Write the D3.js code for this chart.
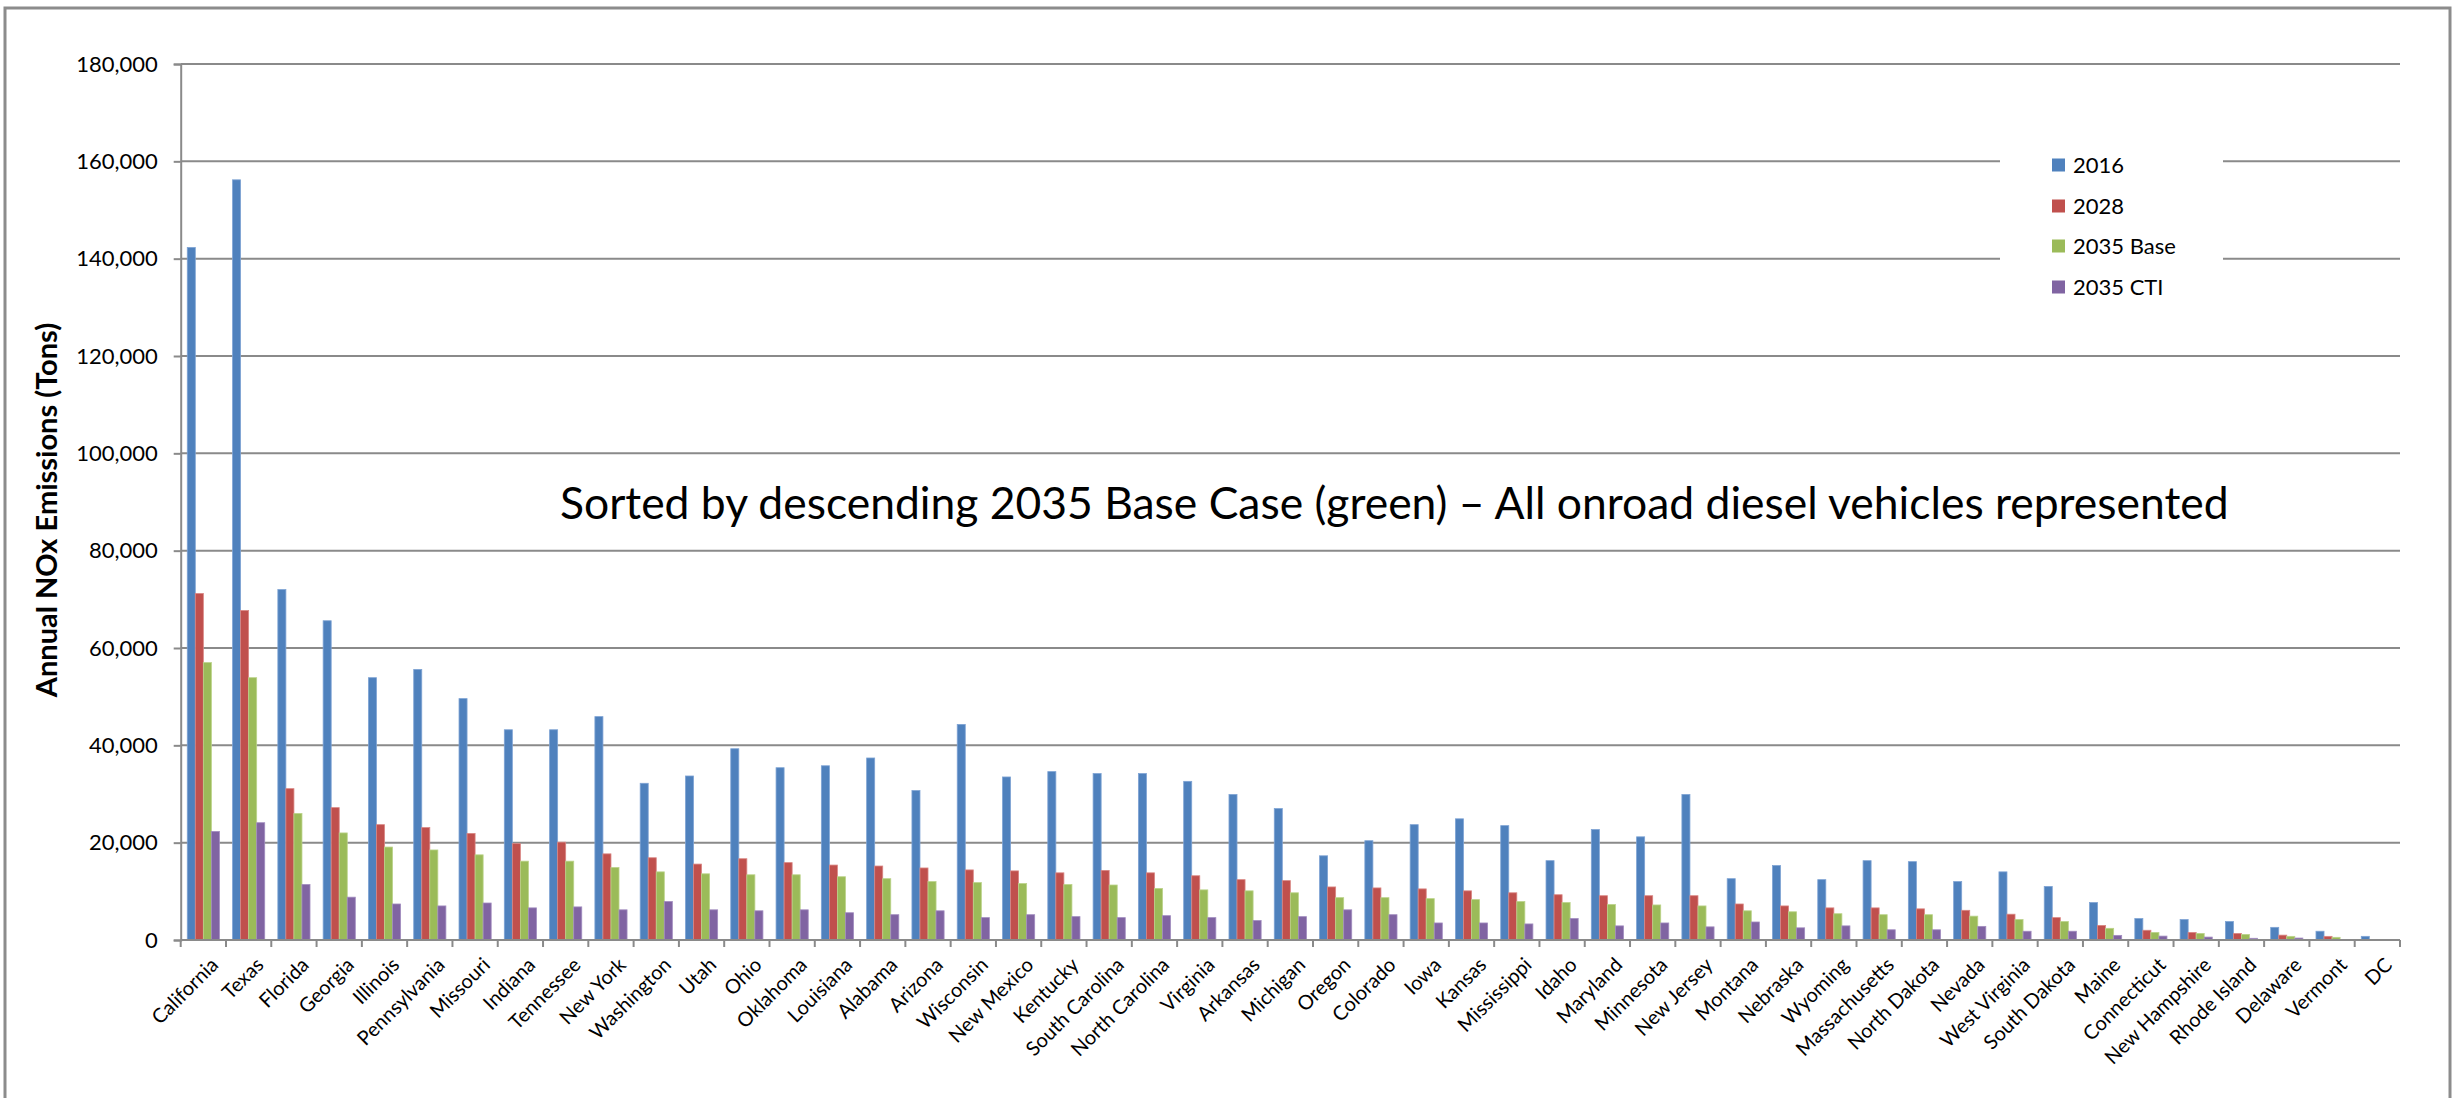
<!DOCTYPE html>
<html>
<head>
<meta charset="utf-8">
<script src="https://cdn.jsdelivr.net/npm/d3@7/dist/d3.min.js"></script>
<style>
  html, body { margin: 0; padding: 0; background: #fff; }
  svg { display: block; }
  text { font-family: Lato, "Liberation Sans", Arial, sans-serif; fill: #000; }
</style>
</head>
<body>
<svg id="chart" width="2460" height="1098"></svg>
<script>
// ---------------- DATA ----------------
const categories = ["California","Texas","Florida","Georgia","Illinois","Pennsylvania","Missouri","Indiana","Tennessee","New York","Washington","Utah","Ohio","Oklahoma","Louisiana","Alabama","Arizona","Wisconsin","New Mexico","Kentucky","South Carolina","North Carolina","Virginia","Arkansas","Michigan","Oregon","Colorado","Iowa","Kansas","Mississippi","Idaho","Maryland","Minnesota","New Jersey","Montana","Nebraska","Wyoming","Massachusetts","North Dakota","Nevada","West Virginia","South Dakota","Maine","Connecticut","New Hampshire","Rhode Island","Delaware","Vermont","DC"];

const seriesNames = ["2016","2028","2035 Base","2035 CTI"];

const values2016 = [142300,156200,72000,65600,53900,55600,49600,43200,43200,45900,32200,33700,39300,35400,35800,37400,30700,44300,33500,34600,34200,34200,32600,29900,27000,17300,20400,23700,24900,23500,16300,22700,21200,29900,12600,15300,12400,16300,16100,12000,14000,11000,7700,4400,4200,3800,2600,1800,750];
const values2028 = [71200,67700,31100,27200,23700,23100,21900,19800,20100,17700,16900,15600,16700,15900,15400,15200,14800,14400,14200,13800,14300,13800,13200,12400,12200,10900,10700,10500,10100,9700,9300,9100,9100,9100,7400,7000,6600,6600,6400,6100,5300,4600,3000,2000,1550,1350,1000,750,40];
const values2035Base = [57000,53900,26000,22000,19100,18500,17500,16200,16200,14900,14000,13600,13400,13400,13000,12600,12000,11800,11600,11400,11300,10600,10300,10100,9700,8700,8700,8500,8300,7900,7700,7300,7200,7000,6000,5800,5400,5200,5200,4900,4200,3800,2400,1550,1350,1150,750,550,20];
const values2035CTI = [22300,24100,11400,8800,7400,7000,7600,6600,6800,6200,7900,6200,6000,6200,5600,5200,6000,4600,5200,4800,4600,5000,4600,4000,4800,6200,5200,3500,3500,3300,4400,2900,3500,2700,3700,2500,2900,2100,2100,2800,1800,1800,950,800,600,350,400,50,10];

const yTicks = [0,20000,40000,60000,80000,100000,120000,140000,160000,180000];
const yTitle = "Annual NOx Emissions (Tons)";
const annotation = "Sorted by descending 2035 Base Case (green) \u2013 All onroad diesel vehicles represented";
const colors = ["#4F81BD","#C0504D","#9BBB59","#8064A2"];
const strokeColors = ["#7EA3D4","#D98683","#BBD38A","#A18CBF"];

// ---------------- BUILD ----------------
const seriesValues = [values2016, values2028, values2035Base, values2035CTI];
const rows = categories.map((c, i) => ({ cat: c, vals: seriesNames.map((s, k) => ({ key: s, k: k, v: seriesValues[k][i] })) }));

const svg = d3.select("#chart");
const plotLeft = 180.7, plotRight = 2400, plotTop = 64, plotBottom = 940;
const gridColor = "#8a8a8a";

// outer border
svg.append("rect").attr("x", 5).attr("y", 8).attr("width", 2445).attr("height", 1200)
  .attr("fill", "#fff").attr("stroke", "#8c8c8c").attr("stroke-width", 3);

const y = d3.scaleLinear().domain([0, 180000]).range([plotBottom, plotTop]);
const pIn = 0.29;
const x0 = d3.scaleBand().domain(categories).range([plotLeft, plotRight]).paddingInner(pIn).paddingOuter(pIn / 2);
const x1 = d3.scaleBand().domain(seriesNames).range([0, x0.bandwidth()]);

// gridlines
svg.append("g").selectAll("line").data(yTicks.filter(t => t > 0)).join("line")
  .attr("x1", plotLeft).attr("x2", plotRight)
  .attr("y1", d => y(d)).attr("y2", d => y(d))
  .attr("stroke", gridColor).attr("stroke-width", 2);

// y axis
const yAxis = svg.append("g").attr("transform", `translate(${plotLeft},0)`)
  .call(d3.axisLeft(y).tickValues(yTicks).tickFormat(d3.format(",")).tickSize(7).tickPadding(16));
yAxis.select(".domain").attr("stroke", gridColor).attr("stroke-width", 2);
yAxis.selectAll(".tick line").attr("stroke", gridColor).attr("stroke-width", 2);
yAxis.selectAll(".tick text").attr("font-size", 22).attr("fill", "#000")
  .style("font-family", "Lato, 'Liberation Sans', Arial, sans-serif");

// bars
const groups = svg.append("g").selectAll("g").data(rows).join("g")
  .attr("transform", d => `translate(${x0(d.cat)},0)`);
groups.selectAll("rect").data(d => d.vals).join("rect")
  .attr("x", d => x1(d.key))
  .attr("width", x1.bandwidth())
  .attr("y", d => y(d.v))
  .attr("height", d => y(0) - y(d.v))
  .attr("fill", d => colors[d.k])
  .attr("stroke", d => strokeColors[d.k])
  .attr("stroke-width", 0.8);

// x axis line and boundary ticks
const step = x0.step();
const boundaries = d3.range(categories.length + 1).map(i => plotLeft + i * step);
svg.append("line").attr("x1", plotLeft).attr("x2", plotRight).attr("y1", plotBottom).attr("y2", plotBottom)
  .attr("stroke", gridColor).attr("stroke-width", 2);
svg.append("g").selectAll("line").data(boundaries).join("line")
  .attr("x1", d => d).attr("x2", d => d).attr("y1", plotBottom).attr("y2", plotBottom + 7)
  .attr("stroke", gridColor).attr("stroke-width", 2);

// x labels
svg.append("g").selectAll("text").data(categories).join("text")
  .attr("transform", d => `translate(${x0(d) + x0.bandwidth() / 2 + 6},${plotBottom + 16}) rotate(-45)`)
  .attr("text-anchor", "end")
  .attr("dy", "0.72em")
  .attr("font-size", 20)
  .text(d => d);

// y title
svg.append("text")
  .attr("transform", `translate(57,510) rotate(-90)`)
  .attr("text-anchor", "middle")
  .attr("font-size", 29)
  .attr("font-weight", "bold")
  .text(yTitle);

// annotation
const ann = svg.append("text").attr("x", 560).attr("y", 519).attr("font-size", 44).text(annotation);
const annW = ann.node().getComputedTextLength();
ann.attr("font-size", 44 * 1669 / annW);

// legend
const lg = svg.append("g");
lg.append("rect").attr("x", 2000).attr("y", 135).attr("width", 223).attr("height", 180).attr("fill", "#fff");
const rowY = [165, 206, 246, 287];
const items = lg.selectAll("g.item").data(seriesNames).join("g").attr("class", "item")
  .attr("transform", (d, i) => `translate(2052,${rowY[i]})`);
items.append("rect").attr("x", 0).attr("y", -6.5).attr("width", 13).attr("height", 13)
  .attr("fill", (d, i) => colors[i]);
items.append("text").attr("x", 21).attr("dy", "0.36em").attr("font-size", 22).text(d => d);
</script>
</body>
</html>
